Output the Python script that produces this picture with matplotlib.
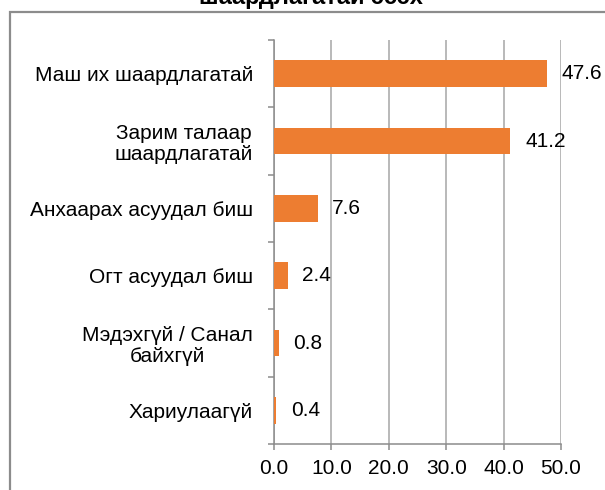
import matplotlib
matplotlib.use("Agg")
import matplotlib.pyplot as plt
from matplotlib.patches import Rectangle
from matplotlib.ticker import FixedLocator

plt.rcParams['font.family'] = ['Liberation Sans', 'DejaVu Sans']

categories = ["Маш их шаардлагатай", "Зарим талаар\nшаардлагатай", "Анхаарах асуудал биш",
              "Огт асуудал биш", "Мэдэхгүй / Санал\nбайхгүй", "Хариулаагүй"]
values = [47.6, 41.2, 7.6, 2.4, 0.8, 0.4]
value_labels = ["47.6", "41.2", "7.6", "2.4", "0.8", "0.4"]
xticks = [0, 10, 20, 30, 40, 50]
xtick_labels = ["0.0", "10.0", "20.0", "30.0", "40.0", "50.0"]
title = "шаардлагатай эсэх"

W, H = 605, 490
fig = plt.figure(figsize=(W / 100, H / 100), dpi=100)
fig.patch.set_facecolor('white')

# outer chart frame (cut off at right and bottom)
fig.patches.append(Rectangle((10 / W, -0.2), 1.2, 1 - 12 / H + 0.2, transform=fig.transFigure,
                             fill=False, edgecolor='#8c8c8c', linewidth=1.6, zorder=0))

fig.text(311 / W, 1 - 4 / H, title, ha='center', va='baseline', fontsize=17,
         fontweight='bold', color='black')

ax = fig.add_axes([274 / W, 1 - 444 / H, 287 / W, 404 / H])
ax.set_facecolor('none')
pos = list(range(len(categories)))
bars = ax.barh(pos, values, height=0.4, color='#ED7D31', zorder=3)
ax.set_xlim(0, 50)
ax.set_ylim(len(categories) - 0.5, -0.5)

for p, v, lab in zip(pos, values, value_labels):
    ax.annotate(lab, (v, p), xytext=(10.5, 0), textcoords='offset points',
                ha='left', va='center', fontsize=15, color='black', zorder=4)

ax.set_xticks(xticks)
ax.set_xticklabels(xtick_labels, fontsize=15)
ax.set_yticks(pos)
ax.set_yticklabels(categories, fontsize=15, multialignment='center', linespacing=1.1)
ax.yaxis.set_minor_locator(FixedLocator([i - 0.5 for i in range(len(categories) + 1)]))
ax.tick_params(axis='y', which='major', length=0, pad=15)
ax.tick_params(axis='y', which='minor', length=4.3, width=1.1, color='#8c8c8c', direction='out')
ax.tick_params(axis='x', which='major', length=4, width=1.1, color='#8c8c8c', pad=6.5)

ax.grid(axis='x', color='#a6a6a6', linewidth=1.1, zorder=1)
for s in ['top', 'right']:
    ax.spines[s].set_visible(False)
for s in ['left', 'bottom']:
    ax.spines[s].set_color('#8c8c8c')
    ax.spines[s].set_linewidth(1.1)

fig.savefig('out.png', dpi=100, facecolor='white')
